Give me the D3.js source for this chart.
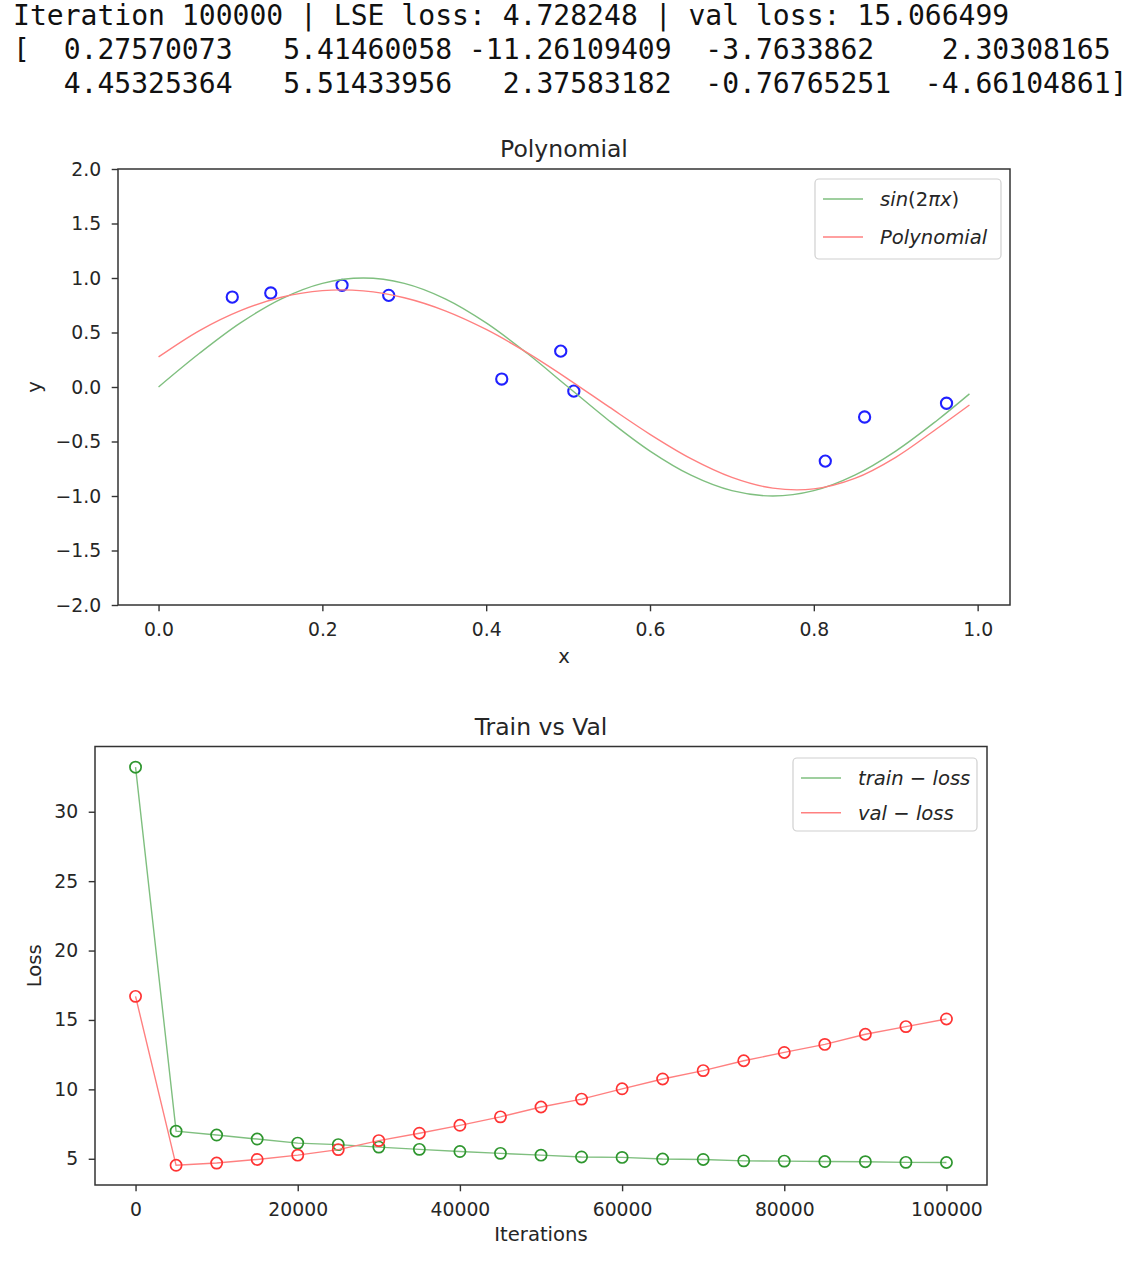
<!DOCTYPE html>
<html>
<head>
<meta charset="utf-8">
<script src="https://cdn.jsdelivr.net/npm/d3@7"></script>
<style>
  html, body { margin: 0; padding: 0; background: #fff; }
  svg { display: block; }
  .mono { font-family: "DejaVu Sans Mono", monospace; white-space: pre; }
  .sans { font-family: "DejaVu Sans", sans-serif; }
</style>
</head>
<body>
<svg id="chart" width="1136" height="1268"></svg>
<script>
// ---------- header text ----------
const headerLines = [
  "Iteration 100000 | LSE loss: 4.728248 | val loss: 15.066499",
  "[  0.27570073   5.41460058 -11.26109409  -3.7633862    2.30308165",
  "   4.45325364   5.51433956   2.37583182  -0.76765251  -4.66104861]"
];

// ---------- top chart data ----------
const curveX = [0, 0.05, 0.10, 0.15, 0.20, 0.25, 0.30, 0.35, 0.40, 0.45, 0.50,
                0.55, 0.60, 0.65, 0.70, 0.75, 0.80, 0.85, 0.90, 0.95, 0.99];
const sinY = [0, 0.309, 0.588, 0.809, 0.951, 1.0, 0.951, 0.809, 0.588, 0.309, 0,
              -0.309, -0.588, -0.809, -0.951, -1.0, -0.951, -0.809, -0.588, -0.309, -0.063];
const polyY = [0.276, 0.518, 0.701, 0.823, 0.884, 0.882, 0.819, 0.699, 0.528, 0.315, 0.073,
               -0.183, -0.434, -0.657, -0.829, -0.928, -0.935, -0.839, -0.645, -0.383, -0.165];
const pointX = [0.090, 0.137, 0.224, 0.281, 0.419, 0.491, 0.507, 0.814, 0.862, 0.962];
const pointY = [0.825, 0.863, 0.933, 0.841, 0.073, 0.329, -0.038, -0.680, -0.275, -0.149];
const topXTicks = [0, 0.2, 0.4, 0.6, 0.8, 1.0];
const topYTicks = [-2.0, -1.5, -1.0, -0.5, 0, 0.5, 1.0, 1.5, 2.0];

// ---------- bottom chart data ----------
const iterations = [0, 5000, 10000, 15000, 20000, 25000, 30000, 35000, 40000, 45000, 50000,
                    55000, 60000, 65000, 70000, 75000, 80000, 85000, 90000, 95000, 100000];
const trainLoss = [33.21, 6.99, 6.71, 6.42, 6.13, 6.02, 5.84, 5.68, 5.52, 5.39, 5.26,
                   5.13, 5.10, 4.98, 4.95, 4.85, 4.83, 4.80, 4.79, 4.74, 4.73];
const valLoss = [16.70, 4.53, 4.69, 4.95, 5.26, 5.66, 6.31, 6.84, 7.41, 8.02, 8.73,
                 9.30, 10.04, 10.75, 11.35, 12.06, 12.66, 13.24, 13.97, 14.52, 15.07];
const botXTicks = [0, 20000, 40000, 60000, 80000, 100000];
const botYTicks = [5, 10, 15, 20, 25, 30];

const svg = d3.select("#chart");
const TXT = "#262626";
const TICK_FS = 18.8, LABEL_FS = 19.6, TITLE_FS = 23.5, LEG_FS = 19.6;

// header
svg.append("g").selectAll("text").data(headerLines).join("text")
  .attr("class", "mono")
  .attr("x", 13)
  .attr("y", (d, i) => 25 + i * 34)
  .attr("font-size", 28.05)
  .attr("fill", "#111")
  .text(d => d);

function makeAxes(box, xDomain, yDomain, xTicks, yTicks, xFmt, yFmt) {
  const x = d3.scaleLinear().domain(xDomain).range([box.left, box.right]);
  const y = d3.scaleLinear().domain(yDomain).range([box.bottom, box.top]);
  const g = svg.append("g");
  const xa = g.append("g").attr("transform", `translate(0,${box.bottom})`)
    .call(d3.axisBottom(x).tickValues(xTicks).tickFormat(xFmt).tickSize(6.3).tickPadding(11));
  const ya = g.append("g").attr("transform", `translate(${box.left},0)`)
    .call(d3.axisLeft(y).tickValues(yTicks).tickFormat(yFmt).tickSize(6.3).tickPadding(10.5));
  [xa, ya].forEach(a => {
    a.select(".domain").remove();
    a.selectAll(".tick line").attr("stroke", "#333").attr("stroke-width", 1.4);
    a.selectAll(".tick text").attr("class", "sans").attr("font-size", TICK_FS).attr("fill", TXT);
  });
  return { x, y, g };
}

function frame(box) {
  svg.append("rect")
    .attr("x", box.left).attr("y", box.top)
    .attr("width", box.right - box.left).attr("height", box.bottom - box.top)
    .attr("fill", "none").attr("stroke", "#333").attr("stroke-width", 1.5);
}

function legend(lx, ly, w, h, items) {
  const g = svg.append("g");
  g.append("rect").attr("x", lx).attr("y", ly).attr("width", w).attr("height", h)
    .attr("rx", 4).attr("fill", "#fff").attr("fill-opacity", 0.8)
    .attr("stroke", "#d0d0d0").attr("stroke-width", 1.2);
  items.forEach((it, i) => {
    const cy = ly + 20 + i * 38 * (h / 80);
    g.append("line").attr("x1", lx + 8).attr("x2", lx + 48).attr("y1", cy).attr("y2", cy)
      .attr("stroke", it.color).attr("stroke-width", 1.5);
    const t = g.append("text").attr("class", "sans").attr("x", lx + 65).attr("y", cy + 7)
      .attr("font-size", LEG_FS).attr("fill", TXT);
    it.parts.forEach(p => {
      t.append("tspan").attr("font-style", p[1] ? "italic" : "normal").text(p[0]);
    });
  });
}

// ================= TOP CHART =================
const boxA = { left: 118, right: 1010, top: 169, bottom: 605 };
const A = makeAxes(boxA, [-0.0495, 1.0395], [-2, 2], topXTicks, topYTicks,
                   d3.format(".1f"), d3.format(".1f"));

const lineA = (ys) => d3.line().x((d, i) => A.x(curveX[i])).y(d => A.y(d)).curve(d3.curveCatmullRom)(ys);

A.g.append("g").selectAll("circle").data(pointX).join("circle")
  .attr("cx", d => A.x(d)).attr("cy", (d, i) => A.y(pointY[i])).attr("r", 5.6)
  .attr("fill", "none").attr("stroke", "#2020ff").attr("stroke-width", 2.1);
A.g.append("path").attr("d", lineA(sinY)).attr("fill", "none")
  .attr("stroke", "#7fbf7f").attr("stroke-width", 1.4);
A.g.append("path").attr("d", lineA(polyY)).attr("fill", "none")
  .attr("stroke", "#ff8080").attr("stroke-width", 1.4);
frame(boxA);

svg.append("text").attr("class", "sans").attr("x", (boxA.left + boxA.right) / 2).attr("y", 157)
  .attr("text-anchor", "middle").attr("font-size", TITLE_FS).attr("fill", TXT).text("Polynomial");
svg.append("text").attr("class", "sans").attr("x", (boxA.left + boxA.right) / 2).attr("y", 663)
  .attr("text-anchor", "middle").attr("font-size", LABEL_FS).attr("fill", TXT).text("x");
svg.append("text").attr("class", "sans")
  .attr("transform", `translate(41,${(boxA.top + boxA.bottom) / 2}) rotate(-90)`)
  .attr("text-anchor", "middle").attr("font-size", LABEL_FS).attr("fill", TXT).text("y");

legend(815, 179, 186, 80, [
  { color: "#7fbf7f", parts: [["sin", true], ["(2", false], ["πx", true], [")", false]] },
  { color: "#ff8080", parts: [["Polynomial", true]] }
]);

// ================= BOTTOM CHART =================
const boxB = { left: 95, right: 987, top: 746.5, bottom: 1185 };
const B = makeAxes(boxB, [-5000, 105000], [3.11, 34.7], botXTicks, botYTicks,
                   d3.format("d"), d3.format("d"));

const lineB = (ys) => d3.line().x((d, i) => B.x(iterations[i])).y(d => B.y(d))(ys);

B.g.append("path").attr("d", lineB(trainLoss)).attr("fill", "none")
  .attr("stroke", "#7fbf7f").attr("stroke-width", 1.4);
B.g.append("g").selectAll("circle").data(trainLoss).join("circle")
  .attr("cx", (d, i) => B.x(iterations[i])).attr("cy", d => B.y(d)).attr("r", 5.6)
  .attr("fill", "none").attr("stroke", "#2e962e").attr("stroke-width", 1.7);
B.g.append("path").attr("d", lineB(valLoss)).attr("fill", "none")
  .attr("stroke", "#ff8080").attr("stroke-width", 1.4);
B.g.append("g").selectAll("circle").data(valLoss).join("circle")
  .attr("cx", (d, i) => B.x(iterations[i])).attr("cy", d => B.y(d)).attr("r", 5.6)
  .attr("fill", "none").attr("stroke", "#ff3333").attr("stroke-width", 1.7);
frame(boxB);

svg.append("text").attr("class", "sans").attr("x", (boxB.left + boxB.right) / 2).attr("y", 735)
  .attr("text-anchor", "middle").attr("font-size", TITLE_FS).attr("fill", TXT).text("Train vs Val");
svg.append("text").attr("class", "sans").attr("x", (boxB.left + boxB.right) / 2).attr("y", 1241)
  .attr("text-anchor", "middle").attr("font-size", LABEL_FS).attr("fill", TXT).text("Iterations");
svg.append("text").attr("class", "sans")
  .attr("transform", `translate(41,${(boxB.top + boxB.bottom) / 2}) rotate(-90)`)
  .attr("text-anchor", "middle").attr("font-size", LABEL_FS).attr("fill", TXT).text("Loss");

legend(793, 758, 184, 73, [
  { color: "#7fbf7f", parts: [["train", true], [" − ", false], ["loss", true]] },
  { color: "#ff8080", parts: [["val", true], [" − ", false], ["loss", true]] }
]);
</script>
</body>
</html>
